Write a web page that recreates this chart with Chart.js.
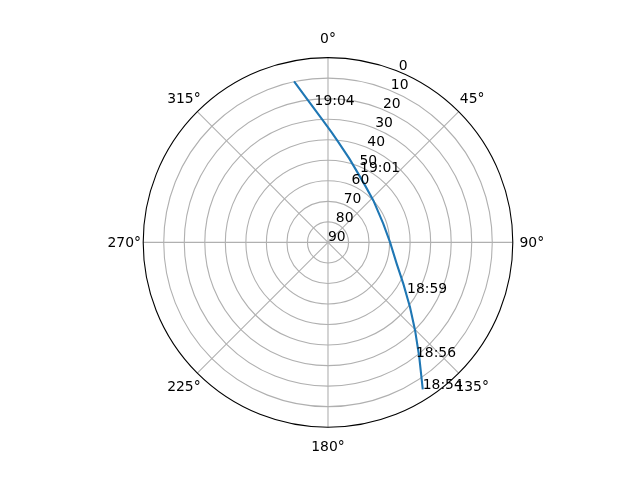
<!DOCTYPE html>
<html>
<head>
<meta charset="utf-8">
<script src="https://cdn.jsdelivr.net/npm/chart.js@4/dist/chart.umd.min.js"></script>
<style>
  body { margin: 0; background: #fff; }
  canvas { display: block; }
</style>
</head>
<body>
<canvas id="polar" width="640" height="480"></canvas>
<script>
// satellite pass track: azimuth (deg, clockwise from north) and elevation (deg)
const azimuth = [348.1, 352.0, 357.6, 1.8, 5.9, 14.3, 25.0, 33.0, 47.2, 71.3, 89.7, 107.2, 118.7, 128.3, 135.3, 141.5, 147.2];
const elevation = [9.8, 20.2, 30.5, 36.3, 40.9, 47.9, 54.0, 56.9, 59.9, 61.6, 59.8, 55.0, 48.2, 39.1, 29.7, 18.6, 4.8];

// time annotations along the track
const timeLabels = ['18:54', '18:56', '18:59', '19:01', '19:04'];
const timeAz = [147.2, 142.5, 122.6, 24.6, 354.4];
const timeEl = [4.8, 19.6, 44.3, 52.5, 23.0];

// grid ticks
const angleTicks = [0, 45, 90, 135, 180, 225, 270, 315];
const radialTicks = [0, 10, 20, 30, 40, 50, 60, 70, 80, 90];

const FONT = '13.9px "DejaVu Sans"';

// polar (az, el) -> cartesian in data units, radius = 90 - elevation
const toXY = (az, el) => {
    const r = 90 - el;
    const t = az * Math.PI / 180;
    return { x: r * Math.sin(t), y: r * Math.cos(t) };
};

const track = azimuth.map((az, i) => toXY(az, elevation[i]));

const polarGrid = {
    id: 'polarGrid',
    beforeDatasetsDraw(chart) {
        const ctx = chart.ctx;
        const xs = chart.scales.x, ys = chart.scales.y;
        const cx = xs.getPixelForValue(0), cy = ys.getPixelForValue(0);
        const unit = xs.getPixelForValue(1) - cx;
        ctx.save();
        ctx.strokeStyle = '#b0b0b0';
        ctx.lineWidth = 1.1;
        // rings
        radialTicks.forEach(v => {
            const r = (90 - v) * unit;
            if (r <= 0 || v === 0) return;
            ctx.beginPath();
            ctx.arc(cx, cy, r, 0, Math.PI * 2);
            ctx.stroke();
        });
        // spokes
        angleTicks.forEach(a => {
            const p = toXY(a, 0);
            ctx.beginPath();
            ctx.moveTo(cx, cy);
            ctx.lineTo(xs.getPixelForValue(p.x), ys.getPixelForValue(p.y));
            ctx.stroke();
        });
        // outer spine
        ctx.strokeStyle = '#000';
        ctx.beginPath();
        ctx.arc(cx, cy, 90 * unit, 0, Math.PI * 2);
        ctx.stroke();
        ctx.restore();
    },
    afterDraw(chart) {
        const ctx = chart.ctx;
        const xs = chart.scales.x, ys = chart.scales.y;
        const cx = xs.getPixelForValue(0), cy = ys.getPixelForValue(0);
        const unit = xs.getPixelForValue(1) - cx;
        ctx.save();
        ctx.fillStyle = '#000';
        ctx.font = FONT;
        // angle labels outside the circle
        ctx.textAlign = 'center';
        ctx.textBaseline = 'middle';
        angleTicks.forEach(a => {
            const t = a * Math.PI / 180;
            const rr = 90 * unit + 19;
            ctx.fillText(a + '°', cx + rr * Math.sin(t), cy - rr * Math.cos(t) + 1);
        });
        // radial labels at 22.5 deg
        ctx.textAlign = 'left';
        ctx.textBaseline = 'bottom';
        radialTicks.forEach(v => {
            const p = toXY(22.5, v);
            ctx.fillText(String(v), xs.getPixelForValue(p.x), ys.getPixelForValue(p.y) + 2);
        });
        // time annotations
        ctx.textBaseline = 'alphabetic';
        timeLabels.forEach((lab, i) => {
            const p = toXY(timeAz[i], timeEl[i]);
            ctx.fillText(lab, xs.getPixelForValue(p.x), ys.getPixelForValue(p.y));
        });
        ctx.restore();
    }
};

new Chart(document.getElementById('polar'), {
    type: 'scatter',
    data: {
        datasets: [{
            data: track,
            showLine: true,
            borderColor: '#1f77b4',
            borderWidth: 2.1,
            pointRadius: 0,
            tension: 0,
            fill: false
        }]
    },
    options: {
        responsive: false,
        animation: false,
        devicePixelRatio: 1,
        layout: { padding: { left: 143.2, right: 127.2, top: 57.6, bottom: 52.8 } },
        plugins: { legend: { display: false }, tooltip: { enabled: false } },
        scales: {
            x: { type: 'linear', min: -90, max: 90, display: false },
            y: { type: 'linear', min: -90, max: 90, display: false }
        }
    },
    plugins: [polarGrid]
});
</script>
</body>
</html>
